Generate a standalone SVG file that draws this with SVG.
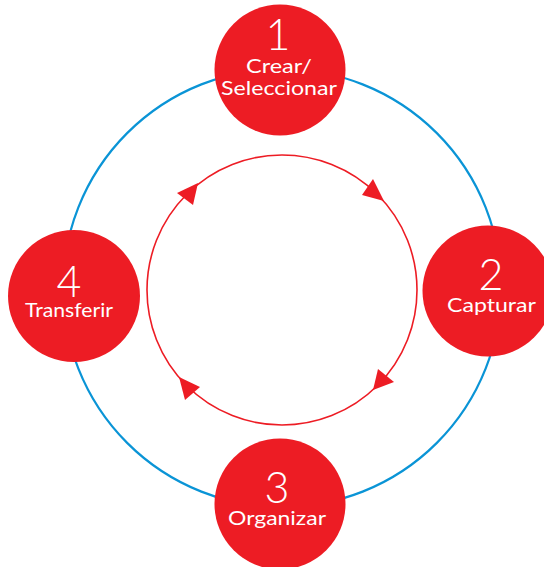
<svg xmlns="http://www.w3.org/2000/svg" width="544" height="567" viewBox="0 0 544 567">
<style>
.ring{fill:none;stroke:#0A94D6;stroke-width:2.2}
.cycle{fill:none;stroke:#ED1C24;stroke-width:1.6}
.head{fill:#ED1C24}
.node{fill:#ED1C24}
.num{fill:#fff;font-family:Lato,"Liberation Sans",sans-serif;font-weight:300;font-size:43px;text-anchor:middle}
.lbl{fill:#fff;font-family:Lato,"Liberation Sans",sans-serif;font-size:19px;text-anchor:middle}
</style>
<rect width="544" height="567" fill="#fff"/>
<g id="connectors">
<circle class="ring" cx="282" cy="288" r="219"/>
<circle class="cycle" cx="282" cy="290" r="135"/>
<polygon class="head" points="362,195 373,179 384,201"/>
<polygon class="head" points="373,390 378,369 394,382"/>
<polygon class="head" points="179,377 200,387 185,400"/>
<polygon class="head" points="198,183 177,193 193,205"/>
</g>
<g id="node1">
<circle class="node" cx="280" cy="70" r="65.5"/>
<text class="num" x="278" y="50">1</text>
<text class="lbl" x="279" y="73" textLength="66" lengthAdjust="spacingAndGlyphs">Crear/</text>
<text class="lbl" x="279" y="95" textLength="116" lengthAdjust="spacingAndGlyphs">Seleccionar</text>
</g>
<g id="node2">
<circle class="node" cx="488" cy="291" r="65.5"/>
<text class="num" x="491" y="290">2</text>
<text class="lbl" x="491.5" y="312" textLength="89" lengthAdjust="spacingAndGlyphs">Capturar</text>
</g>
<g id="node3">
<circle class="node" cx="280" cy="504" r="65.5"/>
<text class="num" x="277" y="503">3</text>
<text class="lbl" x="277" y="525" textLength="98" lengthAdjust="spacingAndGlyphs">Organizar</text>
</g>
<g id="node4">
<circle class="node" cx="74" cy="296" r="66"/>
<text class="num" x="69" y="297">4</text>
<text class="lbl" x="69" y="317" textLength="88" lengthAdjust="spacingAndGlyphs">Transferir</text>
</g>
</svg>
